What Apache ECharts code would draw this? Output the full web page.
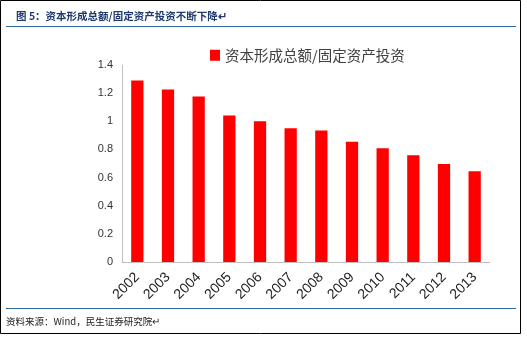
<!DOCTYPE html>
<html>
<head>
<meta charset="utf-8">
<script src="https://cdn.jsdelivr.net/npm/echarts@6/dist/echarts.min.js"></script>
<style>
html,body{margin:0;padding:0;background:#fff;}
#c{width:527px;height:342px;}
</style>
</head>
<body>
<div id="c"></div>
<script>
var categories = ['2002','2003','2004','2005','2006','2007','2008','2009','2010','2011','2012','2013'];
var ratioValues = [1.29, 1.226, 1.177, 1.041, 1.001, 0.951, 0.935, 0.854, 0.809, 0.759, 0.697, 0.645];
var seriesName = '资本形成总额/固定资产投资';
var titleText = '图 5：资本形成总额/固定资产投资不断下降↵';
var sourceText = '资料来源：Wind，民生证券研究院↵';

var chart = echarts.init(document.getElementById('c'), null, {renderer:'canvas'});
chart.setOption({
  animation: false,
  backgroundColor: '#fff',
  grid: {left: 122, right: 37, top: 65, bottom: 80},
  legend: {
    data: [seriesName],
    left: 205, top: 43,
    icon: 'rect', itemWidth: 10, itemHeight: 11, itemGap: 4,
    textStyle: {fontFamily: 'Noto Sans CJK SC', fontSize: 14.5, color: '#404040'}
  },
  xAxis: {
    type: 'category',
    data: categories,
    axisLine: {lineStyle: {color: '#bfbfbf', width: 1}},
    axisTick: {show: false},
    axisLabel: {rotate: 45, fontFamily: 'Liberation Sans', fontSize: 14, color: '#222', margin: 13}
  },
  yAxis: {
    type: 'value', min: 0, max: 1.4, interval: 0.2,
    axisLine: {show: true, lineStyle: {color: '#bfbfbf', width: 1}},
    axisTick: {show: false},
    splitLine: {show: false},
    axisLabel: {fontFamily: 'Liberation Sans', fontSize: 11, color: '#333', margin: 9,
      formatter: function(v){ return String(Math.round(v*10)/10); }}
  },
  series: [{
    name: seriesName,
    type: 'bar',
    data: ratioValues,
    barWidth: '40%',
    itemStyle: {color: '#FF0000'}
  }],
  graphic: [
    {type: 'rect', shape: {x: 0.5, y: 0.5, width: 520, height: 333}, style: {fill: 'none', stroke: '#000', lineWidth: 1}, silent: true},
    {type: 'text', left: 16, top: 11, style: {text: titleText, fill: '#1f3a6e', font: 'bold 10.5px "Noto Sans CJK SC"'}},
    {type: 'line', shape: {x1: 6, y1: 26.5, x2: 516, y2: 26.5}, style: {stroke: '#2e6a9a', lineWidth: 1.2}},
    {type: 'line', shape: {x1: 6, y1: 308.5, x2: 516, y2: 308.5}, style: {stroke: '#2e6a9a', lineWidth: 1.2}},
    {type: 'text', left: 6, top: 317, style: {text: sourceText, fill: '#222', font: '9.5px "Noto Sans CJK SC"'}}
  ]
});
</script>
</body>
</html>
